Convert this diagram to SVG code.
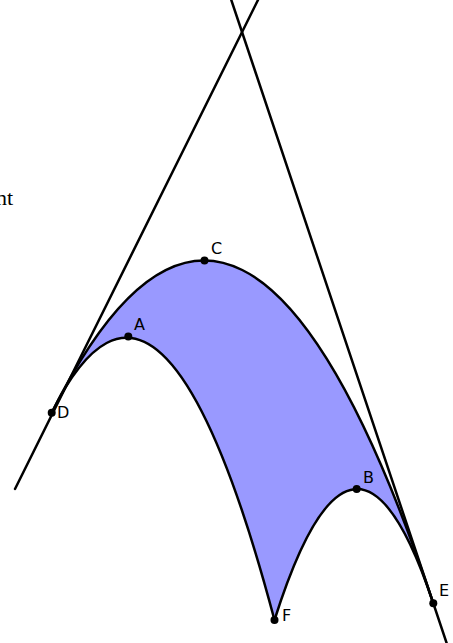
<svg xmlns="http://www.w3.org/2000/svg" width="453" height="643" viewBox="0 0 453 643">
<style>
.ln{stroke:#000;stroke-width:2.5;fill:none;stroke-linecap:round}
.pt{fill:#000}
.lb{font-family:"DejaVu Sans",sans-serif;font-size:16px;fill:#000}
.cap{font-family:"Liberation Serif","Times New Roman",serif;font-size:22px;fill:#000}
</style>
<rect width="453" height="643" fill="#fff"/>
<text class="cap" x="13" y="205" text-anchor="end">nt</text>
<g id="region">
<path d="M51.7,412.7 Q242,32 433.3,603.3 Q354.7,366.8 274.5,620 Q161.1,192.3 51.7,412.7 Z" fill="#9999ff" stroke="none"/>
</g>
<g id="connectors">
<line class="ln" x1="15" y1="489" x2="258" y2="0"/>
<line class="ln" x1="231.3" y1="0" x2="446.6" y2="643"/>
<path class="ln" d="M51.7,412.7 Q242,32 433.3,603.3"/>
<path class="ln" d="M51.7,412.7 Q161.1,192.3 274.5,620"/>
<path class="ln" d="M274.5,620 Q354.7,366.8 433.3,603.3"/>
</g>
<g id="C"><circle class="pt" cx="204.5" cy="260.5" r="4"/><text class="lb" x="211" y="254">C</text></g>
<g id="A"><circle class="pt" cx="128.3" cy="336.5" r="4"/><text class="lb" x="134" y="330">A</text></g>
<g id="D"><circle class="pt" cx="51.7" cy="412.7" r="4"/><text class="lb" x="57" y="418">D</text></g>
<g id="B"><circle class="pt" cx="356.7" cy="489" r="4"/><text class="lb" x="363" y="483">B</text></g>
<g id="F"><circle class="pt" cx="274.5" cy="620" r="4"/><text class="lb" x="282" y="621">F</text></g>
<g id="E"><circle class="pt" cx="433.3" cy="603.3" r="4"/><text class="lb" x="439" y="596">E</text></g>
</svg>
